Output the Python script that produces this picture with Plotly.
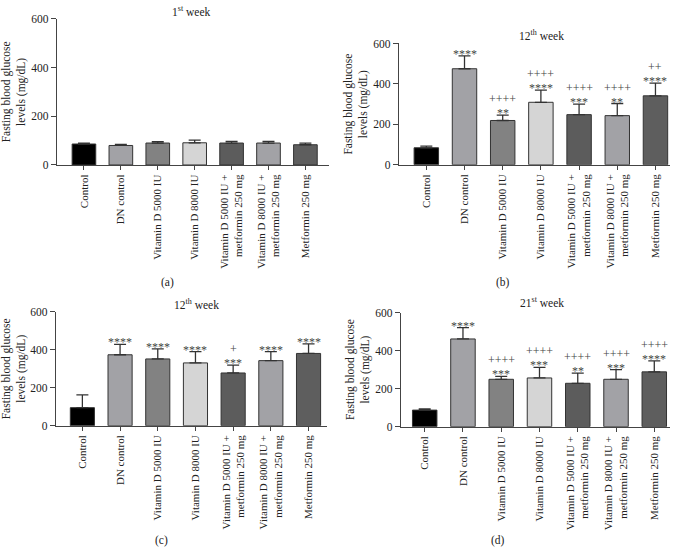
import plotly.graph_objects as go

groups = ["Control", "DN control", "Vitamin D 5000 IU", "Vitamin D 8000 IU",
          "Vitamin D 5000 IU +<br>metformin 250 mg",
          "Vitamin D 8000 IU +<br>metformin 250 mg", "Metformin 250 mg"]
bar_colors = ["#000000", "#a2a2a6", "#828282", "#d5d5d5", "#5c5c5c", "#a2a2a6", "#5e5e5e"]

# panel (a) 1st week
a_mean = [86, 80, 90, 91, 90, 90, 83]
a_sd = [4, 4, 6, 11, 7, 7, 7]
a_stars = ["", "", "", "", "", "", ""]
a_plus = ["", "", "", "", "", "", ""]
# panel (b) 12th week
b_mean = [84, 475, 219, 309, 248, 243, 341]
b_sd = [8, 64, 27, 60, 52, 60, 63]
b_stars = ["", "****", "**", "****", "***", "**", "****"]
b_plus = ["", "", "++++", "++++", "++++", "++++", "++"]
# panel (c) 12th week
c_mean = [95, 374, 352, 331, 278, 343, 381]
c_sd = [67, 55, 53, 60, 41, 48, 50]
c_stars = ["", "****", "****", "****", "***", "****", "****"]
c_plus = ["", "", "", "", "+", "", ""]
# panel (d) 21st week
d_mean = [87, 461, 249, 256, 228, 249, 288]
d_sd = [6, 60, 15, 56, 53, 51, 58]
d_stars = ["", "****", "***", "***", "**", "***", "****"]
d_plus = ["", "", "++++", "++++", "++++", "++++", "++++"]

titles = ["1<sup>st</sup> week", "12<sup>th</sup> week", "12<sup>th</sup> week", "21<sup>st</sup> week"]
panel_labels = ["(a)", "(b)", "(c)", "(d)"]
y_ticks = [0, 200, 400, 600]

FONT = "Liberation Serif"
TXT = "#222222"

panels = [
    dict(mean=a_mean, sd=a_sd, stars=a_stars, plus=a_plus,
         xd=[0.0847, 0.4889], yd=[0.7056, 0.9764], xr=[-0.73, 6.64],
         title_xy=(0.285, 0.991), lab_xy=(0.2496, 0.4873)),
    dict(mean=b_mean, sd=b_sd, stars=b_stars, plus=b_plus,
         xd=[0.5929, 0.9955], yd=[0.706, 0.9306], xr=[-0.715, 6.38],
         title_xy=(0.805, 0.9457), lab_xy=(0.7474, 0.4873)),
    dict(mean=c_mean, sd=c_sd, stars=c_stars, plus=c_plus,
         xd=[0.0832, 0.4859], yd=[0.2228, 0.4335], xr=[-0.70, 6.49],
         title_xy=(0.2927, 0.4475), lab_xy=(0.2407, 0.0109)),
    dict(mean=d_mean, sd=d_sd, stars=d_stars, plus=d_plus,
         xd=[0.5958, 0.9955], yd=[0.221, 0.4324], xr=[-0.62, 6.41],
         title_xy=(0.805, 0.4511), lab_xy=(0.74, 0.0109)),
]

fig = go.Figure()
annotations = []
layout = {}
for i, p in enumerate(panels):
    n = "" if i == 0 else str(i + 1)
    xa, ya = "x" + n, "y" + n
    fig.add_trace(go.Bar(
        x=list(range(len(groups))), y=p["mean"], xaxis=xa, yaxis=ya,
        width=0.64,
        marker=dict(color=bar_colors, line=dict(color="#333333", width=1)),
        error_y=dict(type="data", symmetric=False, array=p["sd"],
                     arrayminus=[0] * len(groups), width=6, thickness=1.3,
                     color="#333333"),
        showlegend=False, hoverinfo="skip"))
    layout["xaxis" + n] = dict(
        domain=p["xd"], anchor=ya, range=p["xr"],
        tickmode="array", tickvals=list(range(len(groups))), ticktext=groups,
        tickangle=-90, ticks="outside", ticklen=4, tickwidth=1, tickcolor="#444",
        showline=True, linecolor="#444", linewidth=1.3, showgrid=False, zeroline=False,
        tickfont=dict(family=FONT, size=11, color=TXT))
    layout["yaxis" + n] = dict(
        domain=p["yd"], anchor=xa, range=[0, 600],
        tickmode="array", tickvals=y_ticks, ticks="outside", ticklen=5,
        tickwidth=1, tickcolor="#444", showline=True, linecolor="#444",
        linewidth=1.3, showgrid=False, zeroline=False,
        tickfont=dict(family=FONT, size=11.5, color=TXT),
        title=dict(text="Fasting blood glucose<br>levels (mg/dL)",
                   font=dict(family=FONT, size=11.5, color=TXT), standoff=3))
    for j in range(len(groups)):
        top = p["mean"][j] + p["sd"][j]
        if p["stars"][j]:
            annotations.append(dict(
                x=j, y=top, xref=xa, yref=ya, text=p["stars"][j], showarrow=False,
                yanchor="middle", yshift=2,
                font=dict(family=FONT, size=12, color="#444")))
        if p["plus"][j]:
            annotations.append(dict(
                x=j, y=top, xref=xa, yref=ya, text=p["plus"][j], showarrow=False,
                yanchor="middle", yshift=16,
                font=dict(family=FONT, size=12, color="#444")))
    annotations.append(dict(
        x=p["title_xy"][0], y=p["title_xy"][1], xref="paper", yref="paper",
        text=titles[i], showarrow=False, xanchor="center", yanchor="middle",
        font=dict(family=FONT, size=11.5, color=TXT)))
    annotations.append(dict(
        x=p["lab_xy"][0], y=p["lab_xy"][1], xref="paper", yref="paper",
        text=panel_labels[i], showarrow=False, xanchor="center", yanchor="middle",
        font=dict(family=FONT, size=11.5, color=TXT)))

fig.update_layout(
    width=673, height=552, margin=dict(l=0, r=0, t=0, b=0),
    paper_bgcolor="white", plot_bgcolor="white",
    bargap=0.3, annotations=annotations, **layout)

fig.write_html("out.html")
